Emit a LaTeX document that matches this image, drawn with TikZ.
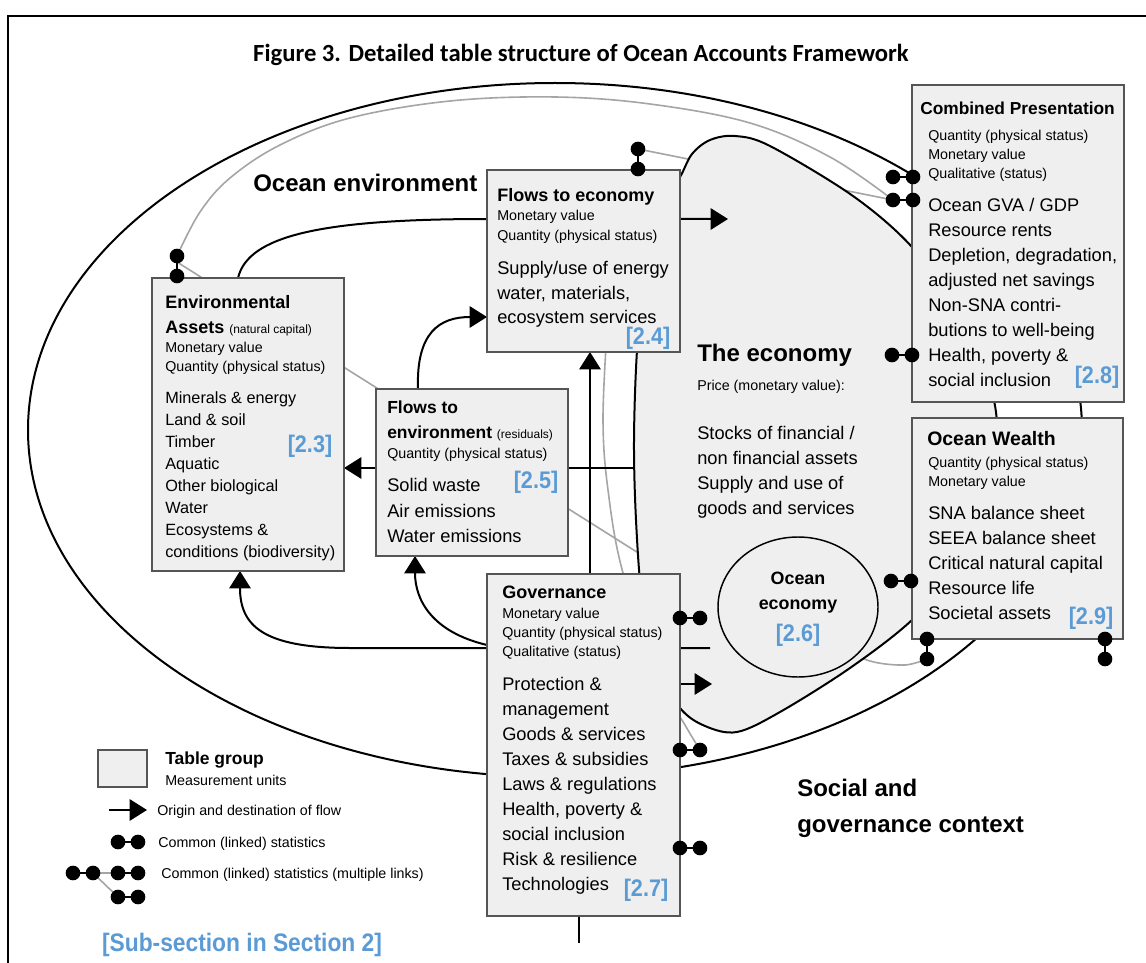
\documentclass[tikz,border=0pt]{standalone}
\usepackage{fontspec}
\setmainfont{Liberation Sans}
\newfontfamily\titlefont{Carlito}
\newfontfamily\lblfont[FakeStretch=0.9]{Liberation Sans}
\usetikzlibrary{arrows.meta,shapes.geometric}
\definecolor{boxfill}{RGB}{239,239,239}
\definecolor{boxedge}{RGB}{85,85,85}
\definecolor{linkgray}{RGB}{165,165,165}
\definecolor{secblue}{RGB}{91,155,213}
\newcommand\fsmall{\fontsize{10.7}{14.25}\selectfont}
\newcommand\fhead{\bfseries\fontsize{13.5}{18.75}\selectfont}
\newcommand\fbody{\fontsize{13.7}{18.75}\selectfont}
\newcommand\fnote{\mdseries\fontsize{9}{11}\selectfont}
\newcommand\dumbh[2]{\draw[line width=1.6pt] (#1,#2) -- ++(20,0); \fill (#1,#2) circle[radius=5.5pt] ++(20,0) circle[radius=5.5pt];}
\newcommand\dumbv[2]{\draw[line width=1.6pt] (#1,#2) -- ++(0,20); \fill (#1,#2) circle[radius=5.5pt] ++(0,20) circle[radius=5.5pt];}
\begin{document}
\begin{tikzpicture}[x=0.75pt,y=-0.75pt,
  tbox/.style={draw=boxedge, fill=boxfill, line width=1.1pt, inner sep=0pt},
  txt/.style={inner sep=0pt, anchor=north west, align=left},
  flow/.style={line width=1.5pt},
  arr/.style={flow, -{Triangle[length=13pt,width=16pt]}},
  glink/.style={draw=linkgray, line width=1.2pt},
  sec/.style={text=secblue, inner sep=0pt, font=\lblfont\bfseries\fontsize{18}{20}\selectfont},
  big/.style={font=\bfseries\fontsize{18}{27}\selectfont}
]
\useasboundingbox (0,0) rectangle (1146,963);
\fill[white] (0,0) rectangle (1146,963);
\draw[line width=1.5pt] (8,963) -- (8,16) -- (1146,16);

\node[font=\titlefont\bfseries\fontsize{18.5}{22}\selectfont, inner sep=0pt] (title) at (581,55) {Figure 3. Detailed table structure of Ocean Accounts Framework};

% gray links (common statistics)
\draw[glink] plot[smooth, tension=0.6] coordinates {(177,256) (200,212) (230,178) (280,145) (350,118) (450,101) (555,97) (650,104) (750,123) (830,157) (893,200)};
\draw[glink] (638,149) -- (893,200);
\draw[glink] (177,262) -- (640,554);
\draw[glink] plot[smooth, tension=0.6] coordinates {(607,330) (603,420) (608,490) (623,573) (660,680) (685,725) (700,750)};
\draw[glink] plot[smooth] coordinates {(820,640) (870,661) (905,665) (927,659)};

% the economy
\filldraw[fill=boxfill, line width=1.5pt] plot[smooth cycle, tension=0.55] coordinates {(680,177) (692,154) (710,140) (735,136) (770,146) (853,196) (912,247) (962,315) (987,375) (997,425) (990,490) (960,565) (912,620) (850,668) (780,712) (737,732) (705,726) (680,708) (655,665) (642,600) (636,520) (634,440) (637,350) (645,260) (662,205)};

% ocean environment boundary
\draw[line width=1.5pt] (555,430) ellipse [x radius=527, y radius=347];

% flows
\draw[arr] (238,278) .. controls (248,236) and (320,219) .. (487,219) -- (728,219);
\draw[arr] (418,389) .. controls (416,332) and (440,317) .. (487,317);
\draw[arr] (634,468) -- (344,468);
\draw[arr] (590,574) -- (590,352);
\draw[arr] (710,648) -- (350,648) .. controls (262,648) and (240,625) .. (240,571);
\draw[arr] (487,645) .. controls (432,632) and (415,600) .. (415,556);
\draw[arr] (620,684) -- (712,684);
\draw[flow] (579,916) -- (579,943);

\node[ellipse, draw, fill=boxfill, line width=1.1pt, minimum width=120pt, minimum height=105pt, inner sep=0pt] (oe) at (798,607) {};
\node[inner sep=0pt, anchor=north, align=center, font=\bfseries\fontsize{13.4}{18.75}\selectfont] (oet) at (798,571.3) {Ocean\\economy};
\node[sec] (l26) at (798,635) {[2.6]};

% Environmental assets
\node[tbox, minimum width=144pt, minimum height=219.75pt] (env) at (248,424.5) {};
\node[txt, font=\fhead] (envh) at (165,295.3) {Environmental\\Assets {\fnote(natural capital)}};
\node[txt, font=\fsmall] (envs) at (165,341.7) {Monetary value\\Quantity (physical status)};
\node[txt, font=\fontsize{12.2}{16.6}\selectfont] (envb) at (165,391) {Minerals \& energy\\Land \& soil\\Timber\\Aquatic\\Other biological\\Water\\Ecosystems \&\\conditions (biodiversity)};
\node[sec] (l23) at (310,446) {[2.3]};

% Flows to economy
\node[tbox, minimum width=144.75pt, minimum height=136.5pt] (fte) at (583.5,261) {};
\node[txt, font=\fhead] (fteh) at (497,188.3) {Flows to economy};
\node[txt, font=\fontsize{10.7}{15}\selectfont] (ftes) at (497,209.7) {Monetary value\\Quantity (physical status)};
\node[txt, font=\fontsize{13.7}{18.4}\selectfont] (fteb) at (497,261.2) {Supply/use of energy\\water, materials,\\ecosystem services};
\node[sec] (l24) at (648,338) {[2.4]};

% Flows to environment
\node[tbox, minimum width=144pt, minimum height=125.25pt] (ftenv) at (472,472.5) {};
\node[txt, font=\bfseries\fontsize{13.1}{18.75}\selectfont] (ftenvh) at (387,400.5) {Flows to\\environment {\fnote(residuals)}};
\node[txt, font=\fsmall] (ftenvs) at (387,447.7) {Quantity (physical status)};
\node[txt, font=\fontsize{13.7}{19.1}\selectfont] (ftenvb) at (387,478.2) {Solid waste\\Air emissions\\Water emissions};
\node[sec] (l25) at (536,482) {[2.5]};

% Governance
\node[tbox, minimum width=144.75pt, minimum height=256.5pt] (gov) at (583.5,745) {};
\node[txt, font=\fhead] (govh) at (502,585.3) {Governance};
\node[txt, font=\fsmall] (govs) at (502,607.7) {Monetary value\\Quantity (physical status)\\Qualitative (status)};
\node[txt, font=\fbody] (govb) at (502,677.2) {Protection \&\\management\\Goods \& services\\Taxes \& subsidies\\Laws \& regulations\\Health, poverty \&\\social inclusion\\Risk \& resilience\\Technologies};
\node[sec] (l27) at (646,890) {[2.7]};

% Combined presentation
\node[tbox, minimum width=159pt, minimum height=237.75pt] (cp) at (1018,243.5) {};
\node[txt, font=\bfseries\fontsize{13}{16}\selectfont] (cph) at (920,101.6) {Combined Presentation};
\node[txt, font=\fsmall] (cps) at (928,129.7) {Quantity (physical status)\\Monetary value\\Qualitative (status)};
\node[txt, font=\fbody] (cpb) at (928,198.2) {Ocean GVA / GDP\\Resource rents\\Depletion, degradation,\\adjusted net savings\\Non-SNA contri-\\butions to well-being\\Health, poverty \&\\social inclusion};
\node[sec] (l28) at (1097,377) {[2.8]};

% Ocean wealth
\node[tbox, minimum width=158.25pt, minimum height=165.75pt] (ow) at (1017.5,528.5) {};
\node[txt, font=\bfseries\fontsize{14.6}{18}\selectfont] (owh) at (927,430.8) {Ocean Wealth};
\node[txt, font=\fsmall] (ows) at (928,456.7) {Quantity (physical status)\\Monetary value};
\node[txt, font=\fbody] (owb) at (928,506.2) {SNA balance sheet\\SEEA balance sheet\\Critical natural capital\\Resource life\\Societal assets};
\node[sec] (l29) at (1091,618) {[2.9]};

% economy texts
\node[txt, big] (econ) at (697,344.1) {The economy};
\node[txt, font=\fsmall] (price) at (697,379.7) {Price (monetary value):};
\node[txt, font=\fbody] (econb) at (697,426.2) {Stocks of financial /\\non financial assets\\Supply and use of\\goods and services};

\node[txt, big] (oenv) at (253,174.1) {Ocean environment};
\node[txt, big] (soc) at (797,779.1) {Social and\\governance context};

% linked statistics
\dumbv{177}{256}
\dumbv{638}{149}
\dumbh{893}{177}
\dumbh{893}{200}
\dumbh{892}{355}
\dumbh{680}{618}
\dumbh{680}{750}
\dumbh{680}{848}
\dumbh{891}{581}
\dumbv{927}{639}
\dumbv{1105}{639}

% legend
\node[tbox, minimum width=36.75pt, minimum height=27.75pt] (lgbox) at (122.5,768.5) {};
\node[txt, font=\bfseries\fontsize{13.1}{16}\selectfont] (lgt) at (165,751.5) {Table group};
\node[txt, font=\fsmall] (lgm) at (165,774.7) {Measurement units};
\coordinate (lga) at (109,810);
\coordinate (lgb) at (147,810);
\draw[arr] (lga) -- (lgb);
\node[txt, font=\fsmall] (lgf) at (157,804.7) {Origin and destination of flow};
\dumbh{118}{842}
\node[txt, font=\fsmall] (lgc) at (158,836.7) {Common (linked) statistics};
\draw[glink] (93,873) -- (118,873);
\draw[glink] (93,873) -- (118,897);
\dumbh{73}{873}
\dumbh{118}{873}
\dumbh{118}{897}
\node[txt, font=\fsmall] (lgm2) at (161,867.7) {Common (linked) statistics (multiple links)};
\node[text=secblue, inner sep=0pt, font=\lblfont\bfseries\fontsize{19}{22}\selectfont] (subsec) at (242,945) {[Sub-section in Section 2]};
\end{tikzpicture}
\end{document}
